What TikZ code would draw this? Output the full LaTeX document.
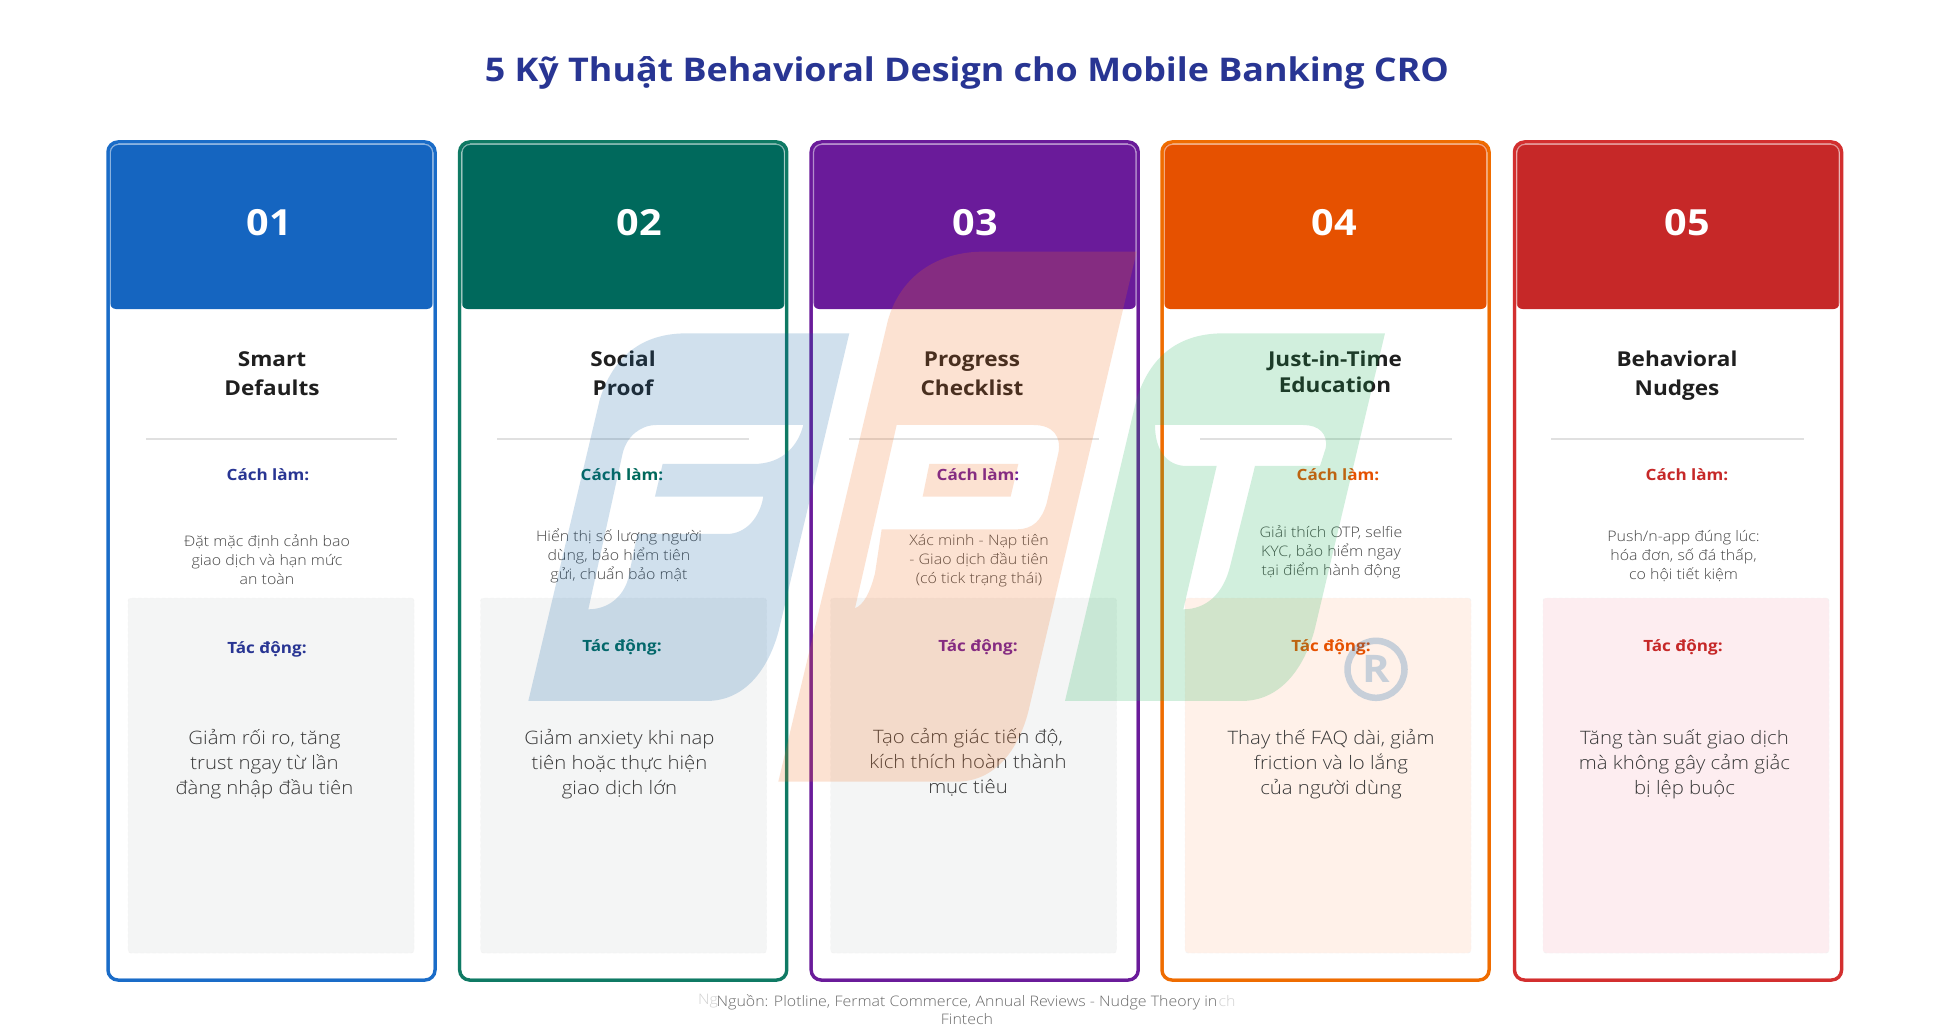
\documentclass[tikz,border=0pt]{standalone}
\usepackage{fontspec}
\setmainfont{Open Sans}[FakeStretch=1.1]
\newfontfamily\lightfont{Open Sans Light}[FakeStretch=1.1]
\usepackage{tikz}

\definecolor{titleblue}{HTML}{283593}
\definecolor{blueline}{HTML}{1A6CC8}
\definecolor{bluehead}{HTML}{1565C0}
\definecolor{tealline}{HTML}{0F7A64}
\definecolor{tealhead}{HTML}{00695C}
\definecolor{purpleline}{HTML}{6A1B9A}
\definecolor{purplehead}{HTML}{6A1B9A}
\definecolor{orangeline}{HTML}{EF6C00}
\definecolor{orangehead}{HTML}{E65100}
\definecolor{redline}{HTML}{D32F2F}
\definecolor{redhead}{HTML}{C62828}
\definecolor{boxgrey}{HTML}{F4F5F5}
\definecolor{boxorange}{HTML}{FFF1E9}
\definecolor{boxred}{HTML}{FDEDF0}
\definecolor{fptblue}{HTML}{1565A8}
\definecolor{fptorange}{HTML}{F37021}
\definecolor{fptgreen}{HTML}{19B255}

\begin{document}
\begin{tikzpicture}[x=1pt,y=-1pt]

\tikzstyle{card} = [rectangle, rounded corners=10pt, line width=3.5pt, fill=white, minimum width=327pt, minimum height=838pt, inner sep=0pt]
\tikzstyle{head} = [rectangle, rounded corners=6pt, minimum width=323pt, minimum height=165pt, inner sep=0pt]
\tikzstyle{innerline} = [rectangle, rounded corners=8pt, line width=1.2pt, draw=white, draw opacity=0.5, minimum width=322.3pt, minimum height=833.3pt, inner sep=0pt]
\tikzstyle{cardnum} = [text=white, font=\fontsize{36}{40}\selectfont\bfseries]
\tikzstyle{cardname} = [text=black!88, align=center, font=\fontsize{20.5}{29}\selectfont\bfseries]
\tikzstyle{divider} = [draw=black!12, line width=1.3pt]
\tikzstyle{partlabel} = [font=\fontsize{15.5}{19}\selectfont\bfseries]
\tikzstyle{howtext} = [text=black!72, align=center, font=\fontsize{14.5}{19}\selectfont\lightfont]
\tikzstyle{effectbox} = [rectangle, rounded corners=3pt, draw=black!6, dashed, minimum width=286pt, minimum height=355pt, inner sep=0pt]
\tikzstyle{effecttext} = [text=black!78, align=center, font=\fontsize{18.5}{25}\selectfont\lightfont]
\tikzstyle{logo} = [even odd rule, fill opacity=0.2]

\useasboundingbox (0,0) rectangle (1935,1035);
\fill[white] (0,0) rectangle (1935,1035);

\node[text=titleblue, font=\fontsize{32.6}{40}\selectfont\bfseries] (title) at (967,72.5) {5 Kỹ Thuật Behavioral Design cho Mobile Banking CRO};

\node[card, draw=blueline] (card1) at (271.5,561) {};
\node[card, draw=tealline] (card2) at (623.2,561) {};
\node[card, draw=purpleline] (card3) at (974.7,561) {};
\node[card, draw=orangeline] (card4) at (1325.5,561) {};
\node[card, draw=redline] (card5) at (1678,561) {};

\node[head, fill=bluehead] (head1) at (271.5,226.5) {};
\node[head, fill=tealhead] (head2) at (623.2,226.5) {};
\node[head, fill=purplehead] (head3) at (974.7,226.5) {};
\node[head, fill=orangehead] (head4) at (1325.5,226.5) {};
\node[head, fill=redhead] (head5) at (1678,226.5) {};

\node[innerline] (inner1) at (271.5,561) {};
\node[innerline] (inner2) at (623.2,561) {};
\node[innerline] (inner3) at (974.7,561) {};
\node[innerline] (inner4) at (1325.5,561) {};
\node[innerline] (inner5) at (1678,561) {};

\node[cardnum] (num1) at (269,223) {01};
\node[cardnum] (num2) at (639,223) {02};
\node[cardnum] (num3) at (975,223) {03};
\node[cardnum] (num4) at (1334,223) {04};
\node[cardnum] (num5) at (1687,223) {05};

\node[cardname] (name1) at (272,373.5) {Smart\\Defaults};
\node[cardname] (name2) at (623,373.5) {Social\\Proof};
\node[cardname] (name3) at (972,373.5) {Progress\\Checklist};
\node[cardname, font=\fontsize{20.5}{26}\selectfont\bfseries] (name4) at (1335,372) {Just-in-Time\\Education};
\node[cardname] (name5) at (1677,376) {Behavioral\\Nudges};

\coordinate (rule1a) at (146,439);
\coordinate (rule1b) at (397,439);
\coordinate (rule2a) at (497,439);
\coordinate (rule2b) at (749,439);
\coordinate (rule3a) at (849,439);
\coordinate (rule3b) at (1099,439);
\coordinate (rule4a) at (1200,439);
\coordinate (rule4b) at (1452,439);
\coordinate (rule5a) at (1551,439);
\coordinate (rule5b) at (1804,439);
\draw[divider] (rule1a) -- (rule1b);
\draw[divider] (rule2a) -- (rule2b);
\draw[divider] (rule3a) -- (rule3b);
\draw[divider] (rule4a) -- (rule4b);
\draw[divider] (rule5a) -- (rule5b);

\node[partlabel, text=titleblue] (how1) at (268,475) {Cách làm:};
\node[partlabel, text=tealhead] (how2) at (622,475) {Cách làm:};
\node[partlabel, text=purplehead] (how3) at (978,475) {Cách làm:};
\node[partlabel, text=orangehead] (how4) at (1338,475) {Cách làm:};
\node[partlabel, text=redhead] (how5) at (1687,475) {Cách làm:};

\node[howtext] (text1) at (267,559.5) {Đặt mặc định cảnh bao\\giao dịch và hạn mức\\an toàn};
\node[howtext] (text2) at (619,556) {Hiển thị số lượng người\\dùng, bảo hiểm tiên\\gửi, chuẩn bảo mật};
\node[howtext] (text3) at (979,561) {Xác minh - Nạp tiên\\- Giao dịch đầu tiên\\(có tick trạng thái)};
\node[howtext] (text4) at (1331,552.5) {Giải thích OTP, selfie\\KYC, bảo hiểm ngay\\tại điểm hành động};
\node[howtext] (text5) at (1683.5,556.5) {Push/n-app đúng lúc:\\hóa đơn, số đá thấp,\\co hội tiết kiệm};

\node[effectbox, fill=boxgrey] (box1) at (271,775.5) {};
\node[effectbox, fill=boxgrey] (box2) at (623.5,775.5) {};
\node[effectbox, fill=boxgrey] (box3) at (973.5,775.5) {};
\node[effectbox, fill=boxorange] (box4) at (1328,775.5) {};
\node[effectbox, fill=boxred] (box5) at (1686,775.5) {};

\node[partlabel, text=titleblue] (impact1) at (267,649) {Tác động:};
\node[partlabel, text=tealhead] (impact2) at (622,647) {Tác động:};
\node[partlabel, text=purplehead] (impact3) at (978,647) {Tác động:};
\node[partlabel, text=orangehead] (impact4) at (1331,647) {Tác động:};
\node[partlabel, text=redhead] (impact5) at (1683,647) {Tác động:};

\node[effecttext] (result1) at (264.5,764) {Giảm rối ro, tăng\\trust ngay từ lần\\đàng nhập đầu tiên};
\node[effecttext] (result2) at (619.5,764) {Giảm anxiety khi nap\\tiên hoặc thực hiện\\giao dịch lớn};
\node[effecttext] (result3) at (968,762) {Tạo cảm giác tiến độ,\\kích thích hoàn thành\\mục tiêu};
\node[effecttext] (result4) at (1331,764) {Thay thế FAQ dài, giảm\\friction và lo lắng\\của người dùng};
\node[effecttext] (result5) at (1684.5,764) {Tăng tàn suất giao dịch\\mà không gây cảm giảc\\bị lệp buộc};

% source line
\node[text=black!18, font=\fontsize{14.5}{18}\selectfont\lightfont] (ghost1) at (708,1001) {Ng};
\node[text=black!18, font=\fontsize{14.5}{18}\selectfont\lightfont] (ghost2) at (1227,1001) {ch};
\node[text=black!58, align=center, font=\fontsize{14.5}{18}\selectfont\lightfont] (source) at (967,1010) {Nguồn: Plotline, Fermat Commerce, Annual Reviews - Nudge Theory in\\Fintech};

% logo on top
\begin{scope}[xshift=520pt, yshift=-320pt, x=0.3333pt, y=-0.3333pt]
\fill[logo, fptblue] (988,40) -- (500,40) .. controls (370,40) and (280,105) .. (239,240) -- (25,1143) -- (560,1143) .. controls (675,1143) and (745,1048) .. (776,933) -- cycle
  (850,315) -- (410,315) .. controls (360,315) and (320,350) .. (308,400) -- (205,868) .. controls (265,868) and (310,830) .. (325,775) -- (352,642) -- (620,642) .. controls (680,642) and (720,590) .. (730,530) -- (405,530) -- (428,432) -- (700,432) .. controls (790,432) and (835,375) .. (850,315) -- cycle;
\end{scope}
\begin{scope}[xshift=770pt, yshift=-240pt, x=0.3333pt, y=-0.3333pt]
\fill[logo, fptorange] (1100,35) -- (640,35) .. controls (510,35) and (395,100) .. (354,240) -- (25,1625) -- (560,1625) .. controls (675,1625) and (745,1530) .. (775,1415) -- cycle
  (380,555) -- (790,555) .. controls (850,555) and (875,590) .. (865,640) -- (830,790) .. controls (815,840) and (790,868) .. (740,868) -- (335,868) -- (315,1000) .. controls (300,1060) and (280,1095) .. (255,1105) -- cycle
  (478,672) -- (745,672) -- (722,770) -- (458,770) -- cycle;
\end{scope}
\begin{scope}[xshift=1060pt, yshift=-320pt, x=0.3333pt, y=-0.3333pt]
\fill[logo, fptgreen] (975,40) -- (490,40) .. controls (360,40) and (270,105) .. (229,240) -- (15,1143) -- (545,1143) .. controls (660,1143) and (730,1048) .. (763,933) -- cycle
  (780,438) -- (797,385) .. controls (805,340) and (775,315) .. (730,315) -- (285,315) .. controls (285,390) and (320,438) .. (380,438) -- (470,438) -- (370,868) .. controls (440,868) and (490,820) .. (510,740) -- (585,438) -- cycle;
\end{scope}
\node[circle, draw=fptblue, line width=6.5pt, minimum size=57pt, inner sep=0pt, text=fptblue, opacity=0.24, font=\fontsize{38}{40}\selectfont\bfseries] (regmark) at (1376,669.3) {R};

\end{tikzpicture}
\end{document}
